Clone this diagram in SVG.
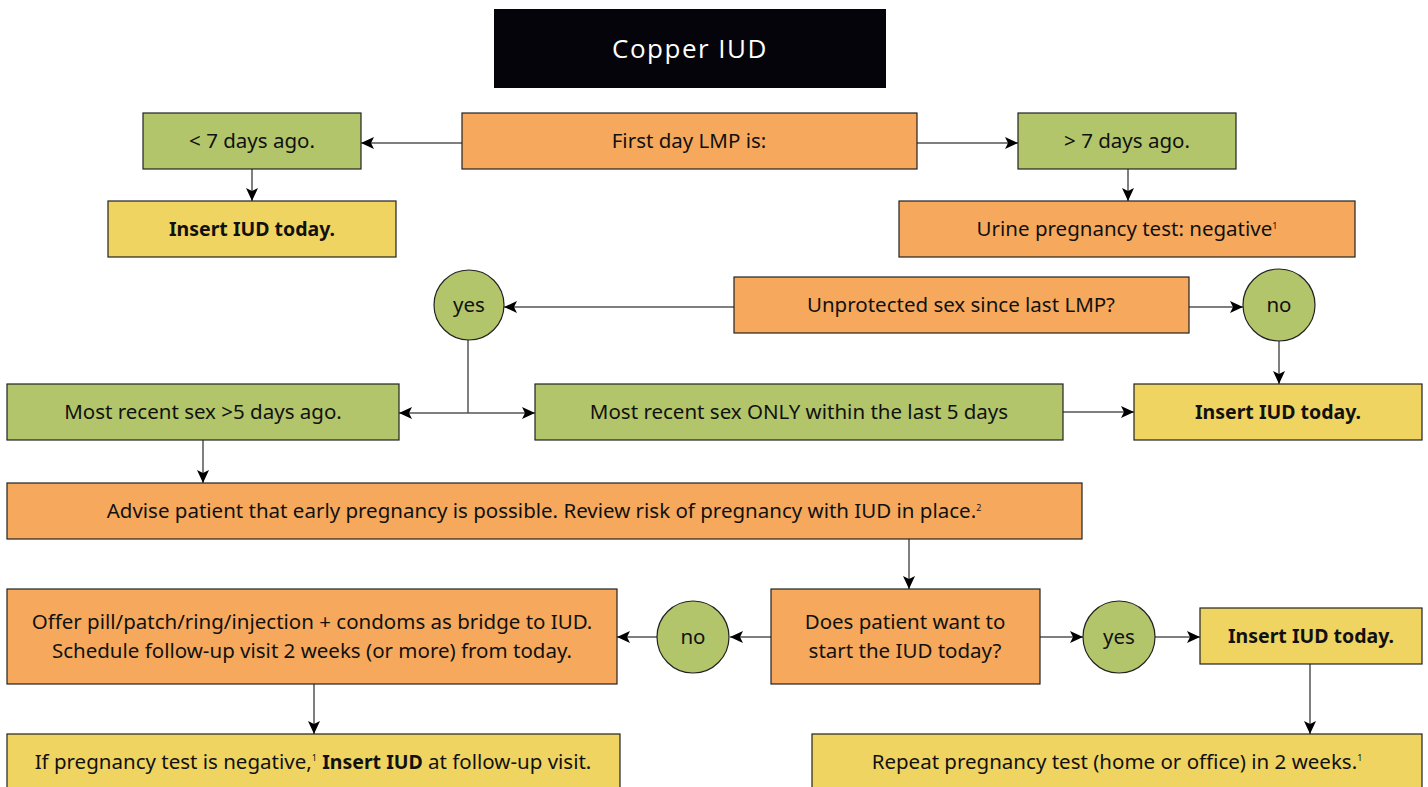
<svg xmlns="http://www.w3.org/2000/svg" width="1428" height="787" viewBox="0 0 1428 787">
<style>
.box{stroke:#222;stroke-width:1.2}
.g{fill:#B2C56A}
.o{fill:#F6A95C}
.y{fill:#F0D462}
.t{font-family:"Noto Sans","Open Sans",sans-serif;font-size:20.5px;fill:#111;text-anchor:middle}
.b{font-weight:bold;font-size:19.5px}
.sup{font-size:9px}
.c{stroke:#555;stroke-width:1.5;fill:none}
.ca{stroke:#555;stroke-width:1.5;fill:none;marker-end:url(#ah)}
</style>
<defs>
<marker id="ah" markerUnits="userSpaceOnUse" markerWidth="14" markerHeight="12" refX="13" refY="6" orient="auto">
<path d="M0,0 L13,6 L0,12 L3,6 Z" fill="#000"/>
</marker>
</defs>
<rect width="1428" height="787" fill="#fff"/>

<g id="title">
<rect x="494" y="9" width="392" height="79" fill="#05040a"/>
<text x="690" y="58" font-family="'Open Sans','Noto Sans',sans-serif" font-size="26" fill="#fff" text-anchor="middle" letter-spacing="1.5">Copper IUD</text>
</g>

<g id="connectors">
<path class="ca" d="M462,143 H361"/>
<path class="ca" d="M917,143 H1018"/>
<path class="ca" d="M252,169 V201"/>
<path class="ca" d="M1128,169 V201"/>
<path class="ca" d="M734,307 H504"/>
<path class="ca" d="M1189,307 H1243"/>
<path class="c" d="M468,340 V413"/>
<path class="ca" d="M468,413 H399"/>
<path class="ca" d="M468,413 H535"/>
<path class="ca" d="M1063,412 H1134"/>
<path class="ca" d="M1279,341 V384"/>
<path class="ca" d="M203,440 V483"/>
<path class="ca" d="M909,539 V589"/>
<path class="ca" d="M771,637 H730"/>
<path class="ca" d="M657,637 H617"/>
<path class="ca" d="M1040,637 H1083"/>
<path class="ca" d="M1155,637 H1200"/>
<path class="ca" d="M314,684 V734"/>
<path class="ca" d="M1310,664 V734"/>
</g>

<g id="lt7">
<rect class="box g" x="143" y="113" width="218" height="56"/>
<text class="t" x="252" y="148">&lt; 7 days ago.</text>
</g>
<g id="lmp">
<rect class="box o" x="462" y="113" width="455" height="56"/>
<text class="t" x="689" y="148">First day LMP is:</text>
</g>
<g id="gt7">
<rect class="box g" x="1018" y="113" width="218" height="56"/>
<text class="t" x="1127" y="148">&gt; 7 days ago.</text>
</g>
<g id="insert1">
<rect class="box y" x="108" y="201" width="288" height="56"/>
<text class="t b" x="252" y="236">Insert IUD today.</text>
</g>
<g id="urine">
<rect class="box o" x="899" y="201" width="456" height="56"/>
<text class="t" x="1127" y="236">Urine pregnancy test: negative<tspan class="sup" dy="-7">1</tspan></text>
</g>
<g id="yes1">
<circle class="box g" cx="469" cy="305" r="35"/>
<text class="t" x="469" y="312">yes</text>
</g>
<g id="unprot">
<rect class="box o" x="734" y="277" width="455" height="56"/>
<text class="t" x="961" y="312">Unprotected sex since last LMP?</text>
</g>
<g id="no1">
<circle class="box g" cx="1279" cy="305" r="36"/>
<text class="t" x="1279" y="312">no</text>
</g>
<g id="gt5">
<rect class="box g" x="7" y="384" width="392" height="56"/>
<text class="t" x="203" y="419">Most recent sex &gt;5 days ago.</text>
</g>
<g id="within5">
<rect class="box g" x="535" y="384" width="528" height="56"/>
<text class="t" x="799" y="419">Most recent sex ONLY within the last 5 days</text>
</g>
<g id="insert2">
<rect class="box y" x="1134" y="384" width="288" height="56"/>
<text class="t b" x="1278" y="419">Insert IUD today.</text>
</g>
<g id="advise">
<rect class="box o" x="7" y="483" width="1075" height="56"/>
<text class="t" x="544" y="518">Advise patient that early pregnancy is possible. Review risk of pregnancy with IUD in place.<tspan class="sup" dy="-7">2</tspan></text>
</g>
<g id="offer">
<rect class="box o" x="7" y="589" width="610" height="95"/>
<text class="t" x="312" y="629">Offer pill/patch/ring/injection + condoms as bridge to IUD.</text>
<text class="t" x="312" y="658">Schedule follow-up visit 2 weeks (or more) from today.</text>
</g>
<g id="no2">
<circle class="box g" cx="693" cy="637" r="36"/>
<text class="t" x="693" y="644">no</text>
</g>
<g id="want">
<rect class="box o" x="771" y="589" width="269" height="95"/>
<text class="t" x="905" y="629">Does patient want to</text>
<text class="t" x="905" y="658">start the IUD today?</text>
</g>
<g id="yes2">
<circle class="box g" cx="1119" cy="637" r="36"/>
<text class="t" x="1119" y="644">yes</text>
</g>
<g id="insert3">
<rect class="box y" x="1200" y="608" width="222" height="56"/>
<text class="t b" x="1311" y="643">Insert IUD today.</text>
</g>
<g id="followup">
<rect class="box y" x="7" y="734" width="613" height="60"/>
<text class="t" x="313" y="769">If pregnancy test is negative,<tspan class="sup" dy="-8">1</tspan><tspan dy="8"> </tspan><tspan class="b">Insert IUD</tspan> at follow-up visit.</text>
</g>
<g id="repeat">
<rect class="box y" x="812" y="734" width="610" height="60"/>
<text class="t" x="1117" y="769">Repeat pregnancy test (home or office) in 2 weeks.<tspan class="sup" dy="-8">1</tspan></text>
</g>
</svg>
